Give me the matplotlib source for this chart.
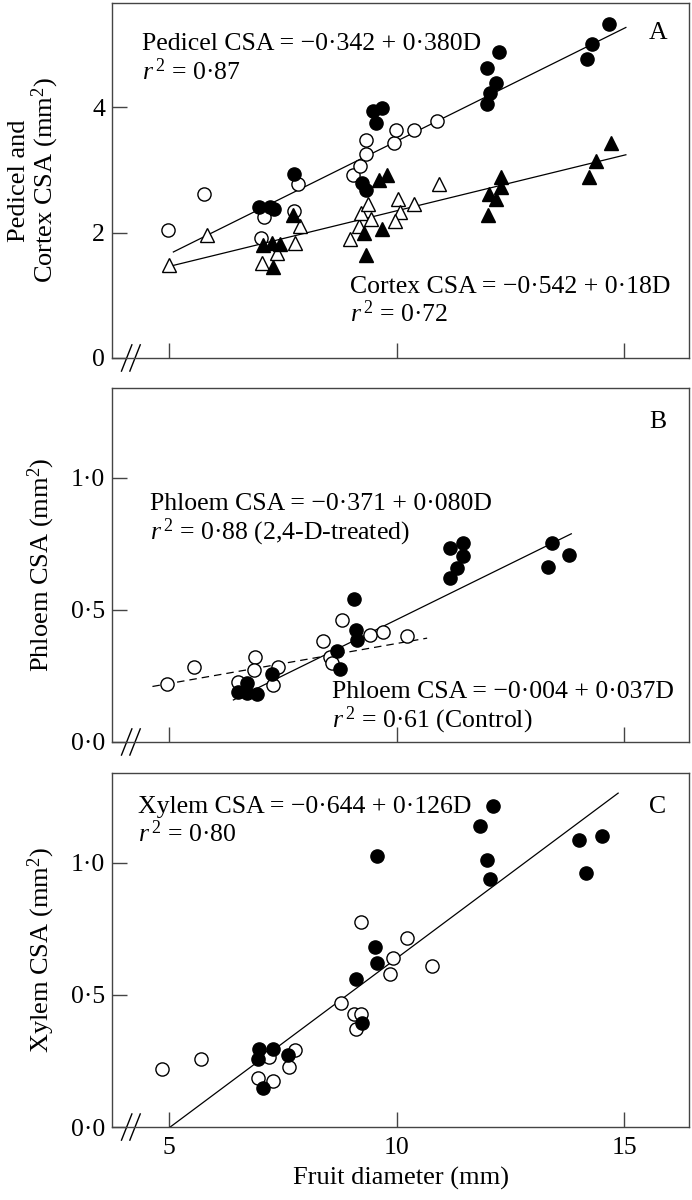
import matplotlib
matplotlib.use('Agg')
import matplotlib.pyplot as plt

plt.rcParams['font.family'] = ['Liberation Serif', 'DejaVu Serif']
plt.rcParams['mathtext.fontset'] = 'custom'
plt.rcParams['mathtext.rm'] = 'Liberation Serif'
plt.rcParams['mathtext.it'] = 'Liberation Serif:italic'

# A: pedicel (circles) and cortex (triangles); open = control, filled = 2,4-D
a_oc_x = [4.98, 5.76, 7.02, 7.09, 7.75, 7.83, 9.05, 9.19, 9.33, 9.32, 9.95, 9.99, 10.39, 10.88]
a_oc_y = [2.04, 2.61, 1.91, 2.25, 2.35, 2.78, 2.91, 3.06, 3.25, 3.48, 3.42, 3.63, 3.64, 3.78]
a_fc_x = [6.98, 7.22, 7.30, 7.74, 9.24, 9.32, 9.49, 9.68, 9.54, 11.98, 12.06, 12.19, 11.99, 12.26, 14.19, 14.30, 14.66]
a_fc_y = [2.41, 2.40, 2.38, 2.94, 2.79, 2.68, 3.93, 3.98, 3.74, 4.05, 4.22, 4.39, 4.62, 4.88, 4.76, 5.01, 5.33]
a_ot_x = [4.99, 5.82, 7.04, 7.37, 7.76, 7.88, 8.98, 9.17, 9.22, 9.38, 9.44, 10.02, 10.08, 9.97, 10.38, 10.93]
a_ot_y = [1.48, 1.96, 1.51, 1.68, 1.83, 2.10, 1.89, 2.10, 2.31, 2.45, 2.21, 2.54, 2.33, 2.19, 2.45, 2.77]
a_ft_x = [7.07, 7.26, 7.43, 7.28, 7.73, 9.29, 9.32, 9.62, 9.78, 9.68, 12.0, 12.03, 12.19, 12.30, 12.30, 14.23, 14.38, 14.71]
a_ft_y = [1.80, 1.83, 1.81, 1.45, 2.28, 1.99, 1.64, 2.83, 2.92, 2.05, 2.28, 2.61, 2.53, 2.73, 2.89, 2.88, 3.14, 3.42]
ped_fit_x, ped_fit_y = [5.09, 15.04], [1.69, 5.27]
cor_fit_x, cor_fit_y = [5.0, 15.04], [1.46, 3.24]

# B: phloem
b_oc_x = [4.96, 5.55, 6.52, 6.89, 6.87, 7.28, 7.38, 8.38, 8.80, 8.53, 8.58, 9.41, 9.71, 10.23]
b_oc_y = [0.22, 0.283, 0.226, 0.323, 0.273, 0.216, 0.283, 0.384, 0.462, 0.323, 0.298, 0.405, 0.415, 0.40]
b_fc_x = [6.52, 6.70, 6.70, 6.92, 7.26, 8.69, 8.76, 9.06, 9.11, 9.13, 11.18, 11.46, 11.46, 11.33, 11.17, 13.42, 13.79, 13.33]
b_fc_y = [0.19, 0.225, 0.184, 0.182, 0.256, 0.346, 0.275, 0.54, 0.424, 0.386, 0.734, 0.755, 0.705, 0.658, 0.619, 0.753, 0.707, 0.664]
trt_fit_x, trt_fit_y = [6.41, 13.84], [0.159, 0.788]
ctl_fit_x, ctl_fit_y = [4.63, 10.67], [0.21, 0.393]

# C: xylem
c_oc_x = [4.83, 5.70, 6.95, 7.28, 7.20, 7.64, 7.77, 8.78, 9.07, 9.22, 9.10, 9.22, 9.86, 9.92, 10.23, 10.78]
c_oc_y = [0.219, 0.256, 0.184, 0.175, 0.266, 0.228, 0.292, 0.469, 0.428, 0.428, 0.37, 0.777, 0.58, 0.641, 0.717, 0.61]
c_fc_x = [6.98, 6.96, 7.28, 7.07, 7.60, 9.11, 9.24, 9.53, 9.57, 9.57, 12.12, 11.84, 11.99, 12.05, 14.01, 14.52, 14.16]
c_fc_y = [0.294, 0.256, 0.294, 0.147, 0.273, 0.561, 0.393, 0.683, 0.622, 1.027, 1.216, 1.14, 1.009, 0.938, 1.085, 1.102, 0.963]
xyl_fit_x, xyl_fit_y = [5.02, 14.87], [0.0, 1.264]

x_ticks = [5, 10, 15]
x_ticklabels = ['5', '10', '15']
a_yticks, a_yticklabels = [0, 2, 4], ['0', '2', '4']
bc_yticks, bc_yticklabels = [0, 0.5, 1.0], ['0·0', '0·5', '1·0']

FS = 18.5
MS = 9.5
SPINE = '#444444'

fig = plt.figure(figsize=(6.92, 12), dpi=100)
axA = fig.add_axes([0.1618, 0.7017, 0.834, 0.2958])
axB = fig.add_axes([0.1618, 0.3817, 0.834, 0.2950])
axC = fig.add_axes([0.1618, 0.0608, 0.834, 0.2950])


def style(ax, ylim, yticks, yticklabels, show_x):
    ax.set_xlim(3.74, 16.43)
    ax.set_ylim(*ylim)
    ax.set_xticks(x_ticks)
    ax.set_xticklabels(x_ticklabels if show_x else [])
    ax.set_yticks(yticks)
    ax.set_yticklabels(yticklabels)
    ax.tick_params(direction='in', length=11, width=1, color=SPINE, labelsize=FS, pad=5)
    ax.tick_params(axis='x', pad=7)
    for s in ax.spines.values():
        s.set_color(SPINE)
        s.set_linewidth(1.0)
    # axis break marks
    for xc in (0.0255, 0.040):
        ax.plot([xc - 0.009, xc + 0.009], [-0.037, 0.037], transform=ax.transAxes,
                color='black', lw=1.0, clip_on=False)


def circles(ax, ox, oy, fx, fy):
    ax.plot(ox, oy, 'o', ms=MS, mfc='white', mec='black', mew=1.0, ls='none', zorder=3)
    ax.plot(fx, fy, 'o', ms=MS, mfc='black', mec='black', mew=1.0, ls='none', zorder=4)


# Panel A
axA.plot(ped_fit_x, ped_fit_y, color='black', lw=0.9, zorder=2)
axA.plot(cor_fit_x, cor_fit_y, color='black', lw=0.9, zorder=2)
axA.plot(a_ot_x, a_ot_y, '^', ms=MS + 0.5, mfc='white', mec='black', mew=1.0, ls='none', zorder=3)
axA.plot(a_ft_x, a_ft_y, '^', ms=MS + 0.5, mfc='black', mec='black', mew=1.0, ls='none', zorder=4)
circles(axA, a_oc_x, a_oc_y, a_fc_x, a_fc_y)
style(axA, (0, 5.66), a_yticks, a_yticklabels, False)
axA.set_ylabel('Pedicel and\nCortex CSA (mm$^2$)', fontsize=FS + 0.5, linespacing=1.0)
axA.yaxis.set_label_coords(-0.088, 0.5)
axA.text(0.0515, 0.868, 'Pedicel CSA = −0·342 + 0·380D', transform=axA.transAxes, fontsize=FS)
axA.text(0.0515, 0.783, '$r^{\\,2}$ = 0·87', transform=axA.transAxes, fontsize=FS)
axA.text(0.4125, 0.183, 'Cortex CSA = −0·542 + 0·18D', transform=axA.transAxes, fontsize=FS)
axA.text(0.4125, 0.101, '$r^{\\,2}$ = 0·72', transform=axA.transAxes, fontsize=FS)
axA.text(0.946, 0.915, 'A', transform=axA.transAxes, fontsize=FS, ha='center', va='center')

# Panel B
axB.plot(trt_fit_x, trt_fit_y, color='black', lw=0.9, zorder=2)
axB.plot(ctl_fit_x, ctl_fit_y, color='black', lw=0.9, dashes=(6, 4), zorder=2)
circles(axB, b_oc_x, b_oc_y, b_fc_x, b_fc_y)
style(axB, (0, 1.34), bc_yticks, bc_yticklabels, False)
axB.set_ylabel('Phloem CSA (mm$^2$)', fontsize=FS + 0.5)
axB.yaxis.set_label_coords(-0.095, 0.5)
axB.text(0.0659, 0.655, 'Phloem CSA = −0·371 + 0·080D', transform=axB.transAxes, fontsize=FS)
axB.text(0.0659, 0.571, '$r^{\\,2}$ = 0·88 (2,4-D-treated)', transform=axB.transAxes, fontsize=FS)
axB.text(0.381, 0.124, 'Phloem CSA = −0·004 + 0·037D', transform=axB.transAxes, fontsize=FS)
axB.text(0.381, 0.042, '$r^{\\,2}$ = 0·61 (Control)', transform=axB.transAxes, fontsize=FS)
axB.text(0.946, 0.904, 'B', transform=axB.transAxes, fontsize=FS, ha='center', va='center')

# Panel C
axC.plot(xyl_fit_x, xyl_fit_y, color='black', lw=0.9, zorder=2)
circles(axC, c_oc_x, c_oc_y, c_fc_x, c_fc_y)
style(axC, (0, 1.34), bc_yticks, bc_yticklabels, True)
axC.set_ylabel('Xylem CSA (mm$^2$)', fontsize=FS + 0.5)
axC.yaxis.set_label_coords(-0.095, 0.5)
axC.set_xlabel('Fruit diameter (mm)', fontsize=FS + 0.5, labelpad=6)
axC.text(0.045, 0.887, 'Xylem CSA = −0·644 + 0·126D', transform=axC.transAxes, fontsize=FS)
axC.text(0.045, 0.805, '$r^{\\,2}$ = 0·80', transform=axC.transAxes, fontsize=FS)
axC.text(0.946, 0.904, 'C', transform=axC.transAxes, fontsize=FS, ha='center', va='center')

fig.savefig('out.png', dpi=100)
